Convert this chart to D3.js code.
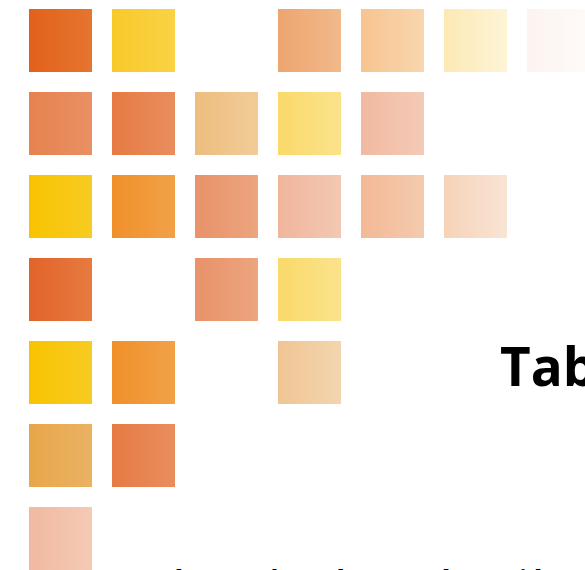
<!DOCTYPE html>
<html>
<head>
<meta charset="utf-8">
<script src="https://cdn.jsdelivr.net/npm/d3@7"></script>
<style>
  html, body { margin: 0; padding: 0; background: #fff; overflow: hidden; }
  svg { display: block; font-family: "Open Sans", "Noto Sans", sans-serif; }
</style>
</head>
<body>
<svg id="viz" width="585" height="570"></svg>
<script>
// grid rows / columns of the tile chart
const rows = [0, 1, 2, 3, 4, 5, 6];
const cols = [0, 1, 2, 3, 4, 5, 6];

// left and right colour of each tile's gradient
const palette = [
  ["#e2611a", "#e5752f"], // 0 deep orange
  ["#f8c92a", "#f9d344"], // 1 yellow
  ["#eea56f", "#f1b98b"], // 2 apricot
  ["#f7c490", "#f9d6ae"], // 3 light apricot
  ["#fce9b4", "#fef4d6"], // 4 cream
  ["#fcf3ef", "#fefbf9"], // 5 near white
  ["#e6824f", "#e99064"], // 6 coral
  ["#e67b45", "#e98d5d"], // 7 coral deep
  ["#edbd7e", "#f1cc98"], // 8 sand
  ["#fad96a", "#fbe38c"], // 9 light yellow
  ["#f1b9a0", "#f4cab6"], // 10 salmon pale
  ["#f8c300", "#f7cb22"], // 11 gold
  ["#f0902a", "#f2a148"], // 12 orange
  ["#e8926a", "#eca57f"], // 13 terracotta light
  ["#f0b69c", "#f3c8b2"], // 14 peach
  ["#f3b996", "#f4caae"], // 15 peach 2
  ["#f6d3b8", "#f9e4d4"], // 16 peach pale
  ["#e2632a", "#e67b40"], // 17 rust
  ["#f0c594", "#f3d5ae"], // 18 wheat
  ["#e8a64a", "#eab264"]  // 19 amber
];

// tiles: [row, column, palette index]
const tiles = [
  [0, 0, 0], [0, 1, 1], [0, 3, 2], [0, 4, 3], [0, 5, 4], [0, 6, 5],
  [1, 0, 6], [1, 1, 7], [1, 2, 8], [1, 3, 9], [1, 4, 10],
  [2, 0, 11], [2, 1, 12], [2, 2, 13], [2, 3, 14], [2, 4, 15], [2, 5, 16],
  [3, 0, 17], [3, 2, 13], [3, 3, 9],
  [4, 0, 11], [4, 1, 12], [4, 3, 18],
  [5, 0, 19], [5, 1, 7],
  [6, 0, 10]
];

const titleText = "Tabla";
const subtitleText = "número de países según región";

const svg = d3.select("#viz");

// 63px tiles on an 83px step
const x = d3.scaleBand().domain(cols).range([29, 29 + 83 * 6 + 63]).paddingInner(20 / 83).paddingOuter(0);
const y = d3.scaleBand().domain(rows).range([9, 9 + 83 * 6 + 63]).paddingInner(20 / 83).paddingOuter(0);

const defs = svg.append("defs");
palette.forEach((p, i) => {
  const grad = defs.append("linearGradient")
    .attr("id", "g" + i)
    .attr("x1", "0%").attr("x2", "100%")
    .attr("y1", "0%").attr("y2", "0%");
  grad.append("stop").attr("offset", "0%").attr("stop-color", p[0]);
  grad.append("stop").attr("offset", "100%").attr("stop-color", p[1]);
});

svg.append("g")
  .selectAll("rect")
  .data(tiles)
  .join("rect")
  .attr("x", d => x(d[1]))
  .attr("y", d => y(d[0]))
  .attr("width", x.bandwidth())
  .attr("height", y.bandwidth())
  .attr("fill", d => `url(#g${d[2]})`);

// big title, cut off at the right edge
svg.append("text")
  .attr("x", 500)
  .attr("y", 386)
  .attr("font-size", "53px")
  .attr("font-weight", "bold")
  .attr("fill", "#000")
  .text(titleText);

// subtitle below the canvas, only accent tops show
svg.append("text")
  .attr("x", 150)
  .attr("y", 590)
  .attr("font-size", "26.5px")
  .attr("font-weight", "bold")
  .attr("fill", "#000")
  .text(subtitleText);
</script>
</body>
</html>
